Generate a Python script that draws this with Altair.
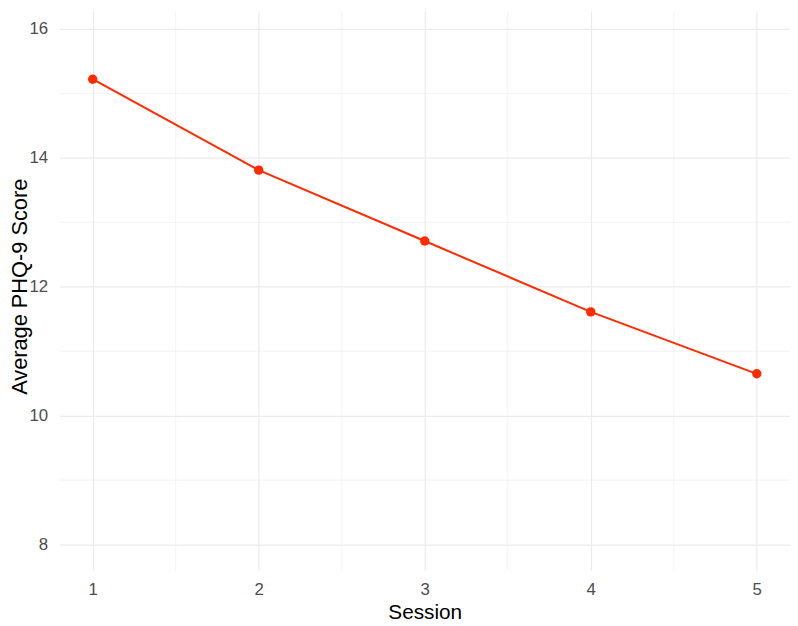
import altair as alt
import pandas as pd

sessions = [1, 2, 3, 4, 5]
scores = [15.22, 13.81, 12.71, 11.61, 10.65]
y_major = [8, 10, 12, 14, 16]
y_minor = [9, 11, 13, 15]
x_major = [1, 2, 3, 4, 5]
x_minor = [1.5, 2.5, 3.5, 4.5]

df = pd.DataFrame({"Session": sessions, "Score": scores})

grid_color = "#EBEBEB"
line_color = "#FF2A00"
font = "Liberation Sans"

xscale = alt.Scale(domain=[0.8, 5.2], nice=False, zero=False)
yscale = alt.Scale(domain=[7.6, 16.277], nice=False, zero=False)

x_axis = alt.Axis(
    values=x_major, format="d", title="Session", grid=True, gridColor=grid_color,
    gridWidth=1.2, ticks=False, domain=False, labelFontSize=17, labelColor="#4D4D4D",
    labelPadding=11, titleFontSize=21, titleFontWeight="normal", titleColor="#000000",
    titleY=49, titleBaseline="alphabetic", labelFont=font, titleFont=font,
)
y_axis = alt.Axis(
    values=y_major, format="d", title="Average PHQ-9 Score", grid=True, gridColor=grid_color,
    gridWidth=1.2, ticks=False, domain=False, labelFontSize=17, labelColor="#4D4D4D",
    labelPadding=12, titleFontSize=22, titleFontWeight="normal", titleColor="#000000",
    titleAngle=270, titleX=-33, titleY=278, titleAlign="center", titleBaseline="alphabetic",
    labelFont=font, titleFont=font,
)

xminor = alt.Chart(pd.DataFrame({"Session": x_minor})).mark_rule(
    color=grid_color, strokeWidth=0.6
).encode(x=alt.X("Session:Q", scale=xscale))

yminor = alt.Chart(pd.DataFrame({"Score": y_minor})).mark_rule(
    color=grid_color, strokeWidth=0.6
).encode(y=alt.Y("Score:Q", scale=yscale))

base = alt.Chart(df).encode(
    x=alt.X("Session:Q", scale=xscale, axis=x_axis),
    y=alt.Y("Score:Q", scale=yscale, axis=y_axis),
)
line = base.mark_line(color=line_color, strokeWidth=2)
pts = base.mark_circle(color=line_color, size=90, opacity=1)

chart = alt.layer(xminor, yminor, line, pts).properties(
    width=738, height=565,
    autosize=alt.AutoSizeParams(type="none"),
    padding={"left": 52, "top": 0, "right": 0, "bottom": 50},
).configure(font=font).configure_view(stroke=None)

chart.save("out.html", embed_options={"renderer": "svg", "actions": False})
